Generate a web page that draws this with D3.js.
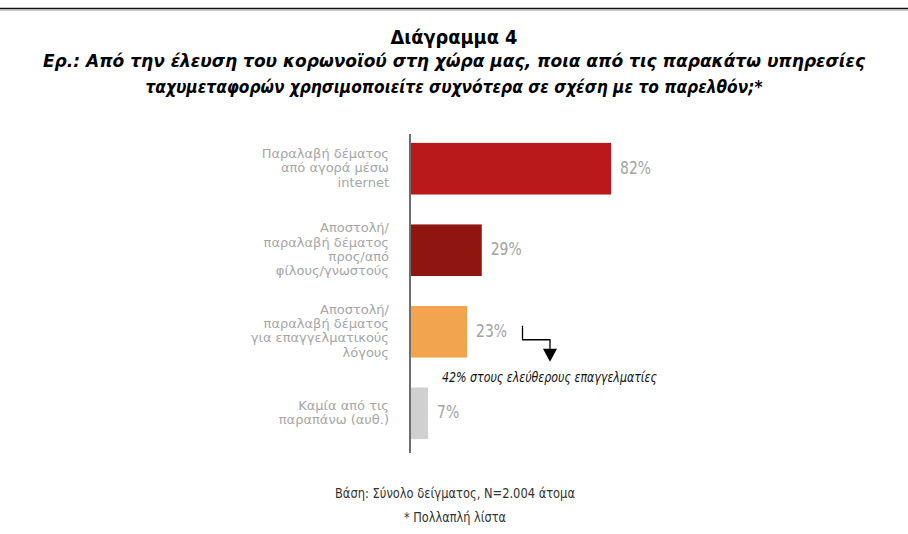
<!DOCTYPE html>
<html>
<head>
<meta charset="utf-8">
<script src="https://cdn.jsdelivr.net/npm/d3@7"></script>
<style>
  html, body { margin: 0; background: #fff; overflow: hidden; }
  svg { display: block; }
</style>
</head>
<body>
<div id="chart"></div>
<script>
// data
var categories = [
    ["Παραλαβή δέματος", "από αγορά μέσω", "internet"],
    ["Αποστολή/", "παραλαβή δέματος", "προς/από", "φίλους/γνωστούς"],
    ["Αποστολή/", "παραλαβή δέματος", "για επαγγελματικούς", "λόγους"],
    ["Καμία από τις", "παραπάνω (αυθ.)"]
];
var values = [82, 29, 23, 7];
var barColors = ["#b9191b", "#8f1510", "#f2a54e", "#d0d0d0"];
var titleText = "Διάγραμμα 4";
var subtitleLines = [
    "Ερ.: Από την έλευση του κορωνοϊού στη χώρα μας, ποια από τις παρακάτω υπηρεσίες",
    "ταχυμεταφορών χρησιμοποιείτε συχνότερα σε σχέση με το παρελθόν;*"
];
var noteText = "42% στους ελεύθερους επαγγελματίες";
var footerLines = ["Βάση: Σύνολο δείγματος, N=2.004 άτομα", "* Πολλαπλή λίστα"];

var width = 908, height = 534;
var condensed = "'Liberation Sans Narrow', 'DejaVu Sans Condensed', 'Open Sans', sans-serif";

var svg = d3.select("#chart")
    .append("svg")
    .attr("width", width)
    .attr("height", height);

// top rule
svg.append("line")
    .attr("x1", 0).attr("x2", width)
    .attr("y1", 8.5).attr("y2", 8.5)
    .style("stroke", "#111").style("stroke-width", 1.6);
svg.append("line")
    .attr("x1", 0).attr("x2", width)
    .attr("y1", 10).attr("y2", 10)
    .style("stroke", "#999").style("stroke-width", 1);

// titles
svg.append("text")
    .attr("x", 454).attr("y", 44)
    .attr("text-anchor", "middle")
    .style("font-family", condensed)
    .style("font-weight", "bold")
    .style("font-size", "19px")
    .attr("textLength", 127).attr("lengthAdjust", "spacingAndGlyphs")
    .text(titleText);

var subW = [822, 617];
svg.selectAll(".sub")
    .data(subtitleLines)
    .enter()
    .append("text")
    .attr("class", "sub")
    .attr("x", 454)
    .attr("y", function(d, i) { return 67 + i * 26; })
    .attr("text-anchor", "middle")
    .style("font-family", condensed)
    .style("font-weight", "bold")
    .style("font-style", "italic")
    .style("font-size", "18px")
    .attr("textLength", function(d, i) { return subW[i]; })
    .attr("lengthAdjust", "spacingAndGlyphs")
    .text(function(d) { return d; });

// scales
var x = d3.scaleLinear().domain([0, 100]).range([411, 655]);
var y = d3.scaleBand()
    .domain(d3.range(values.length))
    .range([128, 454])
    .paddingInner(0.367)
    .paddingOuter(0.183);

// bars
svg.selectAll(".bar")
    .data(values)
    .enter()
    .append("rect")
    .attr("class", "bar")
    .attr("x", x(0))
    .attr("y", function(d, i) { return y(i); })
    .attr("width", function(d) { return x(d) - x(0); })
    .attr("height", y.bandwidth())
    .style("fill", function(d, i) { return barColors[i]; });

// axis line
svg.append("line")
    .attr("x1", 410).attr("x2", 410)
    .attr("y1", 134).attr("y2", 453)
    .style("stroke", "#6e6e6e").style("stroke-width", 2);

// value labels (narrowed a bit, the original font is condensed)
svg.selectAll(".val")
    .data(values)
    .enter()
    .append("text")
    .attr("class", "val")
    .attr("x", function(d) { return x(d) + 9; })
    .attr("y", function(d, i) { return y(i) + y.bandwidth() / 2 + 5; })
    .style("font-family", condensed)
    .style("font-size", "18px")
    .style("fill", "#a3a3a3")
    .text(function(d) { return d + "%"; })
    .each(function() {
        var w = this.getComputedTextLength();
        d3.select(this).attr("textLength", w * 0.86).attr("lengthAdjust", "spacingAndGlyphs");
    });

// category labels
var lineH = 14.4;
var cat = svg.selectAll(".cat")
    .data(categories)
    .enter()
    .append("text")
    .attr("class", "cat")
    .attr("text-anchor", "end")
    .style("font-family", "'DejaVu Sans', sans-serif")
    .style("font-size", "13px")
    .style("fill", "#a6a6a6");

cat.each(function(lines, i) {
    var cy = y(i) + y.bandwidth() / 2;
    var top = cy - (lines.length - 1) * lineH / 2;
    d3.select(this).selectAll("tspan")
        .data(lines)
        .enter()
        .append("tspan")
        .attr("x", 389)
        .attr("y", function(d, k) { return top + k * lineH + 3.5; })
        .text(function(d) { return d; });
});

// annotation arrow for the 3rd bar
var ay = y(2) + y.bandwidth() / 2;
svg.append("path")
    .attr("d", "M522.5," + (ay - 6) + "V" + (ay + 8) + "H550V" + (ay + 18))
    .style("fill", "none")
    .style("stroke", "#000")
    .style("stroke-width", 1.3);
svg.append("path")
    .attr("d", "M543," + (ay + 17) + "H557L550," + (ay + 30) + "Z")
    .style("fill", "#000");

svg.append("text")
    .attr("x", 442).attr("y", ay + 50)
    .style("font-family", condensed)
    .style("font-style", "italic")
    .style("font-size", "13.5px")
    .style("fill", "#111")
    .attr("textLength", 215).attr("lengthAdjust", "spacingAndGlyphs")
    .text(noteText);

// footer
var footW = [240, 102];
svg.selectAll(".foot")
    .data(footerLines)
    .enter()
    .append("text")
    .attr("class", "foot")
    .attr("x", 455)
    .attr("y", function(d, i) { return 498 + i * 24; })
    .attr("text-anchor", "middle")
    .style("font-family", condensed)
    .style("font-size", "14.5px")
    .style("fill", "#333")
    .attr("textLength", function(d, i) { return footW[i]; })
    .attr("lengthAdjust", "spacingAndGlyphs")
    .text(function(d) { return d; });
</script>
</body>
</html>
